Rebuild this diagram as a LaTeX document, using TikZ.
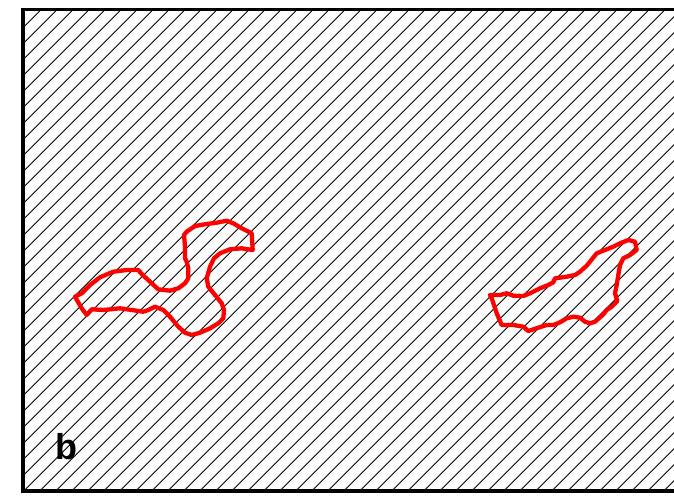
\documentclass[tikz,border=0pt]{standalone}
\usepackage{fontspec}
\setmainfont{Liberation Sans}
\begin{document}
\begin{tikzpicture}[x=1pt,y=-1pt,
  hatch/.style={black,line width=0.9pt},
  frame/.style={black,line width=3.6pt},
  outline/.style={red,line width=4.3pt,line join=round,line cap=round},
  lbl/.style={font=\fontsize{36}{36}\selectfont\bfseries,inner sep=0pt}]
\useasboundingbox (0,0) rectangle (674,503);
\fill[white] (0,0) rectangle (674,503);
\begin{scope}
  \clip (23,9.5) rectangle (680,491);
  \foreach \c in {2.7,18.7,...,1220} {
    \draw[hatch] (\c-540,540) -- (\c+20,-20);
  }
\end{scope}
\draw[frame] (690,9.5) -- (23,9.5) -- (23,491) -- (690,491);
% left region
\draw[outline] (75,296.7) -- (81.7,293.3) -- (90,285) -- (100,277.3) -- (113.3,271.7) -- (126.7,270) -- (138.3,270) -- (141.7,274) -- (150,281.7) -- (158.3,289.3) -- (170,290.7) -- (178.3,288.3) -- (185,283.3) -- (188.3,278.3) -- (188.3,268.3) -- (186.7,261.7) -- (185,258.3) -- (185,246.7) -- (184,235) -- (186.7,231.7) -- (195,226) -- (206.7,224) -- (216.7,222.7) -- (226.7,220.7) -- (233.3,223.3) -- (241.7,228.3) -- (251.7,233.3) -- (252.7,250) -- (241.7,248.3) -- (230,249.3) -- (220,253.3) -- (214,258.3) -- (210,266.7) -- (206.7,278.3) -- (208.3,286.7) -- (215,295) -- (221.7,303.3) -- (224,310) -- (223.3,318.3) -- (218.3,323.3) -- (210,328.3) -- (200,332.7) -- (191.7,335) -- (185,332.7) -- (178.3,326.7) -- (170,316.7) -- (163.3,310) -- (155,306.7) -- (148.3,310) -- (143.3,311.7) -- (131.7,310) -- (120,308.3) -- (103.3,310) -- (91.7,309.3) -- (86.7,315) -- (81.7,308.3) -- cycle;
% right region
\draw[outline] (490,295) -- (500,295) -- (506.7,293.3) -- (513.3,295.7) -- (523.3,296) -- (530,293.3) -- (540,288.3) -- (548.3,285) -- (553.3,282.3) -- (555,278.3) -- (566.7,276.7) -- (575,275) -- (580,271.7) -- (586.7,265.7) -- (596.7,253.3) -- (605,250) -- (613.3,246.7) -- (620,243.3) -- (628.3,240) -- (635,241.7) -- (636.7,250) -- (630,255) -- (623.3,258.3) -- (620,265) -- (618.3,275) -- (616.7,285) -- (615,293.3) -- (617.3,301) -- (611.7,306.7) -- (606.7,310) -- (602.7,315) -- (595,321.7) -- (590,323.3) -- (585,321.7) -- (580,317.7) -- (573.3,316.7) -- (566.7,318.3) -- (560,322.3) -- (553.3,325) -- (546.7,325) -- (538.3,327.7) -- (528.3,331) -- (523.3,326.7) -- (513.3,325) -- (501.7,325) -- (496.7,313.3) -- (491.7,298.3) -- cycle;
\node[lbl] (label) at (66,447) {b};
\end{tikzpicture}
\end{document}
